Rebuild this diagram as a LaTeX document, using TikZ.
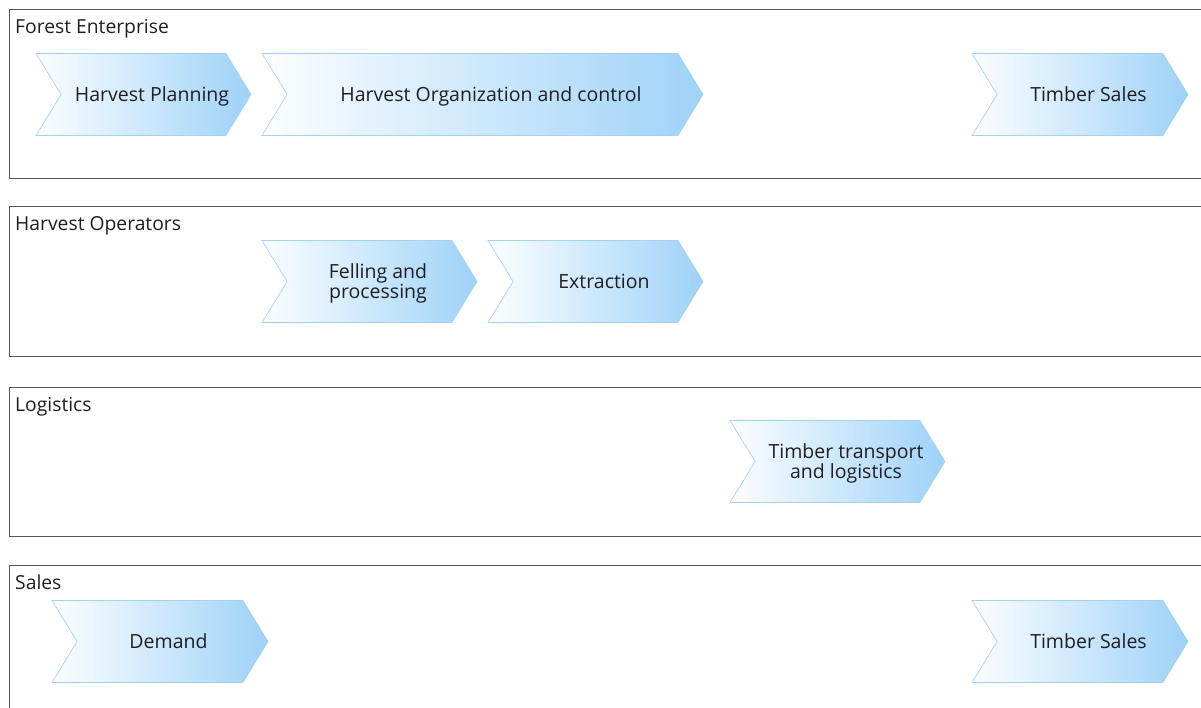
\documentclass[tikz,border=0pt]{standalone}
\usepackage{fontspec}
\setmainfont{Open Sans}
\usepackage{tikz}
\usetikzlibrary{shapes.symbols}

\definecolor{laneGray}{RGB}{85,85,85}
\definecolor{chevEdge}{RGB}{165,210,238}
\definecolor{chevBlue}{RGB}{158,210,248}
\definecolor{inkDark}{RGB}{30,30,35}

\tikzset{
	lane/.style={draw=laneGray, line width=1pt},
	lanetitle/.style={anchor=base west, inner sep=0pt, text=inkDark,
		font=\fontsize{19.3}{20}\selectfont},
	chev/.style={signal, signal from=west, signal to=east,
		signal pointer angle=117, minimum height=82pt, inner sep=0pt,
		draw=chevEdge, line width=0.7pt, left color=white!97!chevBlue,
		right color=chevBlue},
	chevtext/.style={inner sep=0pt, xshift=8.5pt, align=center, text=inkDark,
		font=\fontsize{19.5}{19.5}\selectfont},
	oneline/.style={text height=14pt, text depth=0pt},
	twolines/.style={yshift=-2pt},
}

\begin{document}
\begin{tikzpicture}[x=1pt, y=-1pt]
		\useasboundingbox (0,0) rectangle (1201,708);
		\clip (0,0) rectangle (1201,708);
		% swim lanes
		\draw[lane] (9,10) rectangle (1230,179);
		\draw[lane] (9,207) rectangle (1230,356);
		\draw[lane] (9,387) rectangle (1230,536);
		\draw[lane] (9,565) rectangle (1230,740);
		\node[lanetitle] (forest) at (15,34) {Forest Enterprise};
		\node[lanetitle] (operators) at (15,231) {Harvest Operators};
		\node[lanetitle] (logistics) at (15,411) {Logistics};
		\node[lanetitle] (sales) at (15,589) {Sales};
		% Forest Enterprise
		\node[chev, minimum width=215pt] (planning) at (143.5,94.5) {};
		\node[chevtext, oneline] (planning-txt) at (planning) {Harvest Planning};
		\node[chev, minimum width=441pt] (organization) at (482.5,94.5) {};
		\node[chevtext, oneline] (organization-txt) at (organization) {Harvest Organization and control};
		\node[chev, minimum width=216pt] (timbersales) at (1080,94.5) {};
		\node[chevtext, oneline] (timbersales-txt) at (timbersales) {Timber Sales};
		% Harvest Operators
		\node[chev, minimum width=215pt] (felling) at (369.5,281.5) {};
		\node[chevtext, twolines] (felling-txt) at (felling) {Felling and\\processing};
		\node[chev, minimum width=215pt] (extraction) at (595.5,281.5) {};
		\node[chevtext, oneline] (extraction-txt) at (extraction) {Extraction};
		% Logistics
		\node[chev, minimum width=215pt] (transport) at (837.5,461.5) {};
		\node[chevtext, twolines] (transport-txt) at (transport) {Timber transport\\and logistics};
		% Sales
		\node[chev, minimum width=216pt] (demand) at (160,641.5) {};
		\node[chevtext, oneline] (demand-txt) at (demand) {Demand};
		\node[chev, minimum width=216pt] (timbersales2) at (1080,641.5) {};
		\node[chevtext, oneline] (timbersales2-txt) at (timbersales2) {Timber Sales};
\end{tikzpicture}
\end{document}
